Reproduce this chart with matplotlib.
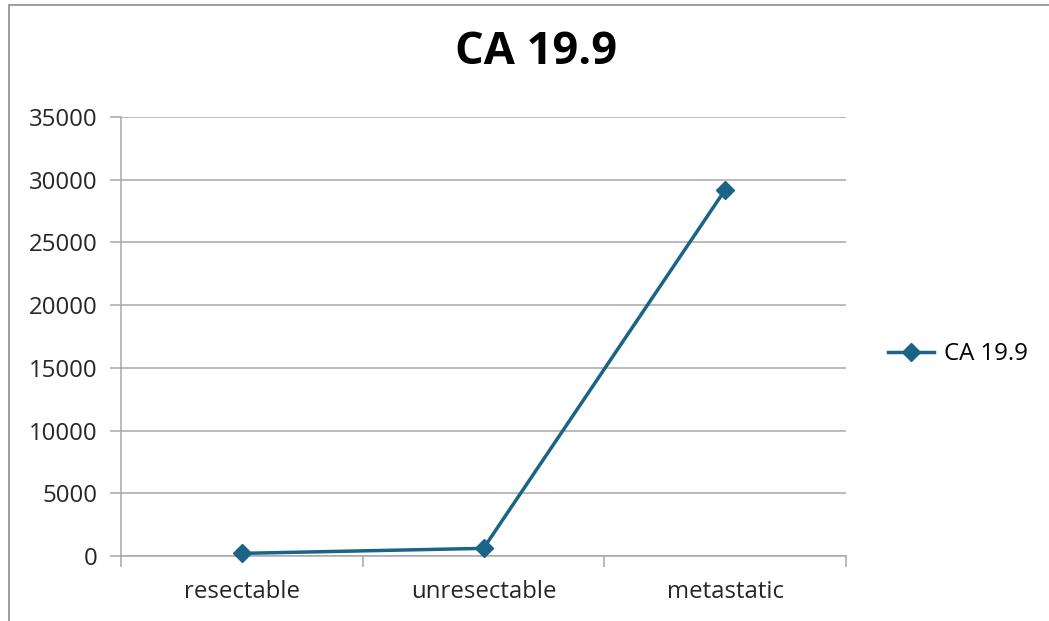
import matplotlib
matplotlib.use("Agg")
import matplotlib.pyplot as plt
from matplotlib.patches import Rectangle
from matplotlib.lines import Line2D

categories = ["resectable", "unresectable", "metastatic"]
values = [210, 610, 29200]
series_name = "CA 19.9"
yticks = [0, 5000, 10000, 15000, 20000, 25000, 30000, 35000]

plt.rcParams['font.family'] = ['Open Sans', 'DejaVu Sans']

W, H = 1049, 621
fig = plt.figure(figsize=(W / 100, H / 100), dpi=100)
fig.patch.set_facecolor("white")

# outer chart border (cropped: only left and top visible)
fig.patches.append(Rectangle((8.5 / W, -0.1), 1.2, 1 - 4.5 / H + 0.1,
                             transform=fig.transFigure, fill=False,
                             edgecolor="#8c8c8c", linewidth=1.2))

ax = fig.add_axes([121 / W, (H - 556) / H, (846 - 121) / W, (556 - 117) / H])
color = "#1b6387"
x = list(range(len(categories)))
line, = ax.plot(x, values, color=color, linewidth=2.5, marker="D",
                markersize=9, markeredgecolor=color, markerfacecolor=color,
                zorder=3, clip_on=False)

ax.set_xlim(-0.5, len(categories) - 0.5)
ax.set_ylim(0, 35000)
ax.set_yticks(yticks)
ax.set_yticklabels([str(v) for v in yticks])
ax.yaxis.grid(True, color="#a8a8a8", linewidth=1.1)
ax.set_axisbelow(True)

fs = 17.3
ax.set_xticks(x)
ax.set_xticklabels(categories)
ax.set_xticks([i - 0.5 for i in range(len(categories) + 1)], minor=True)
ax.tick_params(axis="x", which="major", length=0, pad=17, labelsize=fs, labelcolor="#262626")
ax.tick_params(axis="x", which="minor", length=8, width=1.1, color="#a8a8a8", direction="out")
ax.tick_params(axis="y", length=8, width=1.1, color="#a8a8a8", pad=9, labelsize=fs, labelcolor="#262626")

for s in ["top", "right"]:
    ax.spines[s].set_visible(False)
ax.spines["left"].set_color("#a8a8a8")
ax.spines["left"].set_linewidth(1.1)
ax.spines["bottom"].set_color("#a8a8a8")
ax.spines["bottom"].set_linewidth(1.1)

fig.text(536 / W, 1 - 53 / H, "CA 19.9", ha="center", va="center",
         fontsize=32.5, fontweight="bold", color="black")

handle = Line2D([], [], color=color, linewidth=2.5, marker="D", markersize=9)
fig.legend([handle], [series_name], loc="center left",
           bbox_to_anchor=(878 / W, 1 - 354 / H), frameon=False,
           fontsize=fs, handlelength=1.95, handletextpad=0.4, borderaxespad=0)

fig.savefig("out.png", dpi=100, facecolor="white")
